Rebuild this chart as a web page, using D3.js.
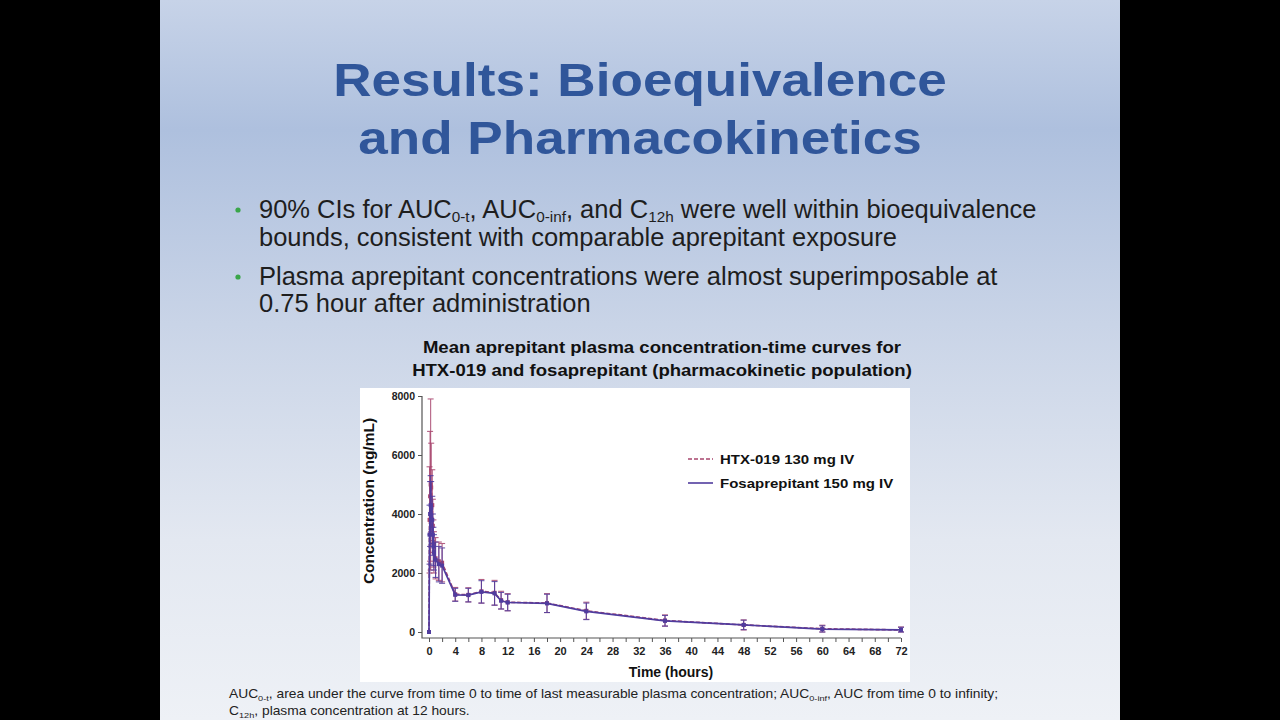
<!DOCTYPE html>
<html>
<head>
<meta charset="utf-8">
<script src="https://cdn.jsdelivr.net/npm/d3@7"></script>
<style>
  html, body { margin: 0; padding: 0; background: #000; }
  svg { display: block; font-family: "Liberation Sans", Arial, sans-serif; }
</style>
</head>
<body>
<div id="graphic"></div>
<script>
// sampling times (hours)
var times = [0, 0.083, 0.167, 0.25, 0.333, 0.5, 0.583, 0.667, 0.75, 1, 1.5, 2, 4, 6, 8, 10, 11, 12, 18, 24, 36, 48, 60, 72];

// HTX-019 130 mg IV, mean and SD (ng/mL)
var htxMean = [0, 3800, 4600, 5000, 4900, 4300, 3600, 3000, 2700, 2500, 2400, 2350, 1280, 1260, 1380, 1330, 1080, 1010, 980, 720, 390, 240, 110, 70];
var htxSd   = [0, 1800, 2200, 2900, 1500, 1200, 900, 800, 700, 700, 650, 650, 230, 240, 400, 420, 300, 290, 320, 290, 190, 170, 120, 100];

// Fosaprepitant 150 mg IV, mean and SD (ng/mL)
var fosMean = [0, 3300, 4000, 4300, 4200, 3800, 3300, 2900, 2700, 2450, 2300, 2250, 1260, 1250, 1360, 1310, 1060, 1000, 970, 700, 380, 240, 100, 70];
var fosSd   = [0, 1000, 1100, 1000, 900, 800, 700, 650, 600, 600, 600, 600, 220, 230, 380, 400, 280, 280, 310, 280, 180, 160, 110, 90];

var yTicks = [0, 2000, 4000, 6000, 8000];
var xTicks = d3.range(0, 73, 2);

var series = [
  { name: "HTX-019 130 mg IV", mean: htxMean, sd: htxSd, color: "#a8456e", dash: "4,2" },
  { name: "Fosaprepitant 150 mg IV", mean: fosMean, sd: fosSd, color: "#503c9e", dash: null }
];

var svg = d3.select("#graphic").append("svg")
    .attr("width", 1280)
    .attr("height", 720);

// slide background
var defs = svg.append("defs");
var grad = defs.append("linearGradient")
    .attr("id", "bg").attr("x1", 0).attr("y1", 0).attr("x2", 0).attr("y2", 1);
grad.append("stop").attr("offset", "0%").attr("stop-color", "#c7d3e8");
grad.append("stop").attr("offset", "18%").attr("stop-color", "#aec0de");
grad.append("stop").attr("offset", "45%").attr("stop-color", "#c9d4e7");
grad.append("stop").attr("offset", "75%").attr("stop-color", "#e3e8f1");
grad.append("stop").attr("offset", "100%").attr("stop-color", "#eef1f6");

svg.append("rect")
    .attr("x", 160).attr("y", 0)
    .attr("width", 960).attr("height", 720)
    .attr("fill", "url(#bg)");

// the slide is a bit stretched sideways, so text groups get an x scale
function stretched(cx, sx) {
  return svg.append("g")
    .attr("transform", "translate(" + cx + ",0) scale(" + sx + ",1) translate(" + (-cx) + ",0)");
}

// text with subscripts: parts are strings or {sub: "..."}
function richText(g, xx, yy, size, subSize, shift, parts) {
  var t = g.append("text").attr("x", xx).attr("y", yy).attr("font-size", size);
  var back = 0;
  parts.forEach(function (p) {
    if (typeof p === "string") {
      t.append("tspan").attr("dy", back ? -back : null).text(p);
      back = 0;
    } else {
      t.append("tspan").attr("font-size", subSize).attr("dy", shift).text(p.sub);
      back = shift;
    }
  });
  return t;
}

// title
var title = stretched(640, 1.13).append("text")
    .attr("text-anchor", "middle")
    .attr("fill", "#30569a")
    .attr("font-weight", "bold")
    .attr("font-size", 47);
title.append("tspan").attr("x", 640).attr("y", 96).text("Results: Bioequivalence");
title.append("tspan").attr("x", 640).attr("y", 154).text("and Pharmacokinetics");

// bullets
svg.selectAll("circle.bullet")
  .data([210, 277])
  .enter().append("circle")
    .attr("class", "bullet")
    .attr("cx", 238).attr("cy", function (d) { return d; })
    .attr("r", 2.6)
    .attr("fill", "#3aa64a");

var bg = stretched(259, 1.02).attr("fill", "#1e1e1e");
richText(bg, 259, 218, 25, 15, 4, ["90% CIs for AUC", { sub: "0-t" }, ", AUC", { sub: "0-inf" }, ", and C", { sub: "12h" }, " were well within bioequivalence"]);
richText(bg, 259, 246, 25, 15, 4, ["bounds, consistent with comparable aprepitant exposure"]);
richText(bg, 259, 285, 25, 15, 4, ["Plasma aprepitant concentrations were almost superimposable at"]);
richText(bg, 259, 312, 25, 15, 4, ["0.75 hour after administration"]);

// chart title
var ct = stretched(662, 1.16).append("text")
    .attr("text-anchor", "middle")
    .attr("font-weight", "bold")
    .attr("font-size", 16)
    .attr("fill", "#111");
ct.append("tspan").attr("x", 662).attr("y", 353).text("Mean aprepitant plasma concentration-time curves for");
ct.append("tspan").attr("x", 662).attr("y", 376).text("HTX-019 and fosaprepitant (pharmacokinetic population)");

// plot panel
svg.append("rect")
    .attr("x", 360).attr("y", 388)
    .attr("width", 550).attr("height", 294)
    .attr("fill", "#fff");

var x = d3.scaleLinear().domain([0, 72]).range([429, 901]);
var y = d3.scaleLinear().domain([0, 8000]).range([632, 396]);

// axes
var yAxis = svg.append("g")
    .attr("transform", "translate(422,0)")
    .call(d3.axisLeft(y).tickValues(yTicks).tickSize(4).tickSizeOuter(0).tickPadding(3)
      .tickFormat(d3.format("d")));
yAxis.select(".domain").remove();
yAxis.selectAll("text").attr("font-size", 10.5).attr("font-weight", "bold").attr("fill", "#222");
yAxis.selectAll("line").attr("stroke", "#555");

var xAxis = svg.append("g")
    .attr("transform", "translate(0,638)")
    .call(d3.axisBottom(x).tickValues(xTicks).tickSize(4).tickSizeOuter(0).tickPadding(5)
      .tickFormat(function (d) { return d % 4 === 0 ? d : ""; }));
xAxis.select(".domain").remove();
xAxis.selectAll("text").attr("font-size", 11).attr("font-weight", "bold").attr("fill", "#222");
xAxis.selectAll("line").attr("stroke", "#555");

svg.append("path")
    .attr("d", "M422," + y(8000) + "V638H" + x(72))
    .attr("fill", "none")
    .attr("stroke", "#555")
    .attr("stroke-width", 1.2);

// axis titles
svg.append("text")
    .attr("transform", "translate(374,501) rotate(-90)")
    .attr("text-anchor", "middle")
    .attr("font-weight", "bold")
    .attr("font-size", 15.5)
    .attr("fill", "#111")
    .text("Concentration (ng/mL)");

svg.append("text")
    .attr("x", (x(0) + x(72)) / 2 + 6).attr("y", 677)
    .attr("text-anchor", "middle")
    .attr("font-weight", "bold")
    .attr("font-size", 14)
    .attr("fill", "#111")
    .text("Time (hours)");

// series: error bars, lines, markers
var line = d3.line()
    .x(function (d) { return x(d.t); })
    .y(function (d) { return y(d.v); });

series.forEach(function (s) {
  var pts = times.map(function (t, i) { return { t: t, v: s.mean[i], sd: s.sd[i] }; });
  var g = svg.append("g");

  var eb = g.selectAll("g.eb").data(pts.filter(function (d) { return d.sd > 0; }))
    .enter().append("g").attr("class", "eb")
    .attr("stroke", s.color).attr("stroke-width", 1.1).attr("opacity", 0.85);
  eb.append("line")
    .attr("x1", function (d) { return x(d.t); }).attr("x2", function (d) { return x(d.t); })
    .attr("y1", function (d) { return y(d.v + d.sd); })
    .attr("y2", function (d) { return y(Math.max(0, d.v - d.sd)); });
  eb.append("line")
    .attr("x1", function (d) { return x(d.t) - 3; }).attr("x2", function (d) { return x(d.t) + 3; })
    .attr("y1", function (d) { return y(d.v + d.sd); }).attr("y2", function (d) { return y(d.v + d.sd); });
  eb.append("line")
    .attr("x1", function (d) { return x(d.t) - 3; }).attr("x2", function (d) { return x(d.t) + 3; })
    .attr("y1", function (d) { return y(Math.max(0, d.v - d.sd)); })
    .attr("y2", function (d) { return y(Math.max(0, d.v - d.sd)); });

  g.append("path")
    .datum(pts)
    .attr("d", line)
    .attr("fill", "none")
    .attr("stroke", s.color)
    .attr("stroke-width", 1.7)
    .attr("stroke-dasharray", s.dash);

  g.selectAll("rect.mk").data(pts)
    .enter().append("rect").attr("class", "mk")
    .attr("x", function (d) { return x(d.t) - 2; })
    .attr("y", function (d) { return y(d.v) - 2; })
    .attr("width", 4).attr("height", 4)
    .attr("fill", s.color);
});

// legend
var leg = svg.selectAll("g.leg").data(series)
  .enter().append("g").attr("class", "leg")
  .attr("transform", function (d, i) { return "translate(688," + (459 + i * 24) + ")"; });
leg.append("line")
  .attr("x1", 0).attr("x2", 25)
  .attr("stroke", function (d) { return d.color; })
  .attr("stroke-width", 1.6)
  .attr("stroke-dasharray", function (d) { return d.dash; });
leg.append("text")
  .attr("x", 32).attr("y", 4.5)
  .attr("font-size", 12.5)
  .attr("font-weight", "bold")
  .attr("fill", "#111")
  .attr("transform", "translate(32,0) scale(1.2,1) translate(-32,0)")
  .text(function (d) { return d.name; });

// footnote
var fg = stretched(229, 1.15).attr("fill", "#222");
richText(fg, 229, 698, 12, 8, 3, ["AUC", { sub: "0-t" }, ", area under the curve from time 0 to time of last measurable plasma concentration; AUC", { sub: "0-inf" }, ", AUC from time 0 to infinity;"]);
richText(fg, 229, 715, 12, 8, 3, ["C", { sub: "12h" }, ", plasma concentration at 12 hours."]);
</script>
</body>
</html>
